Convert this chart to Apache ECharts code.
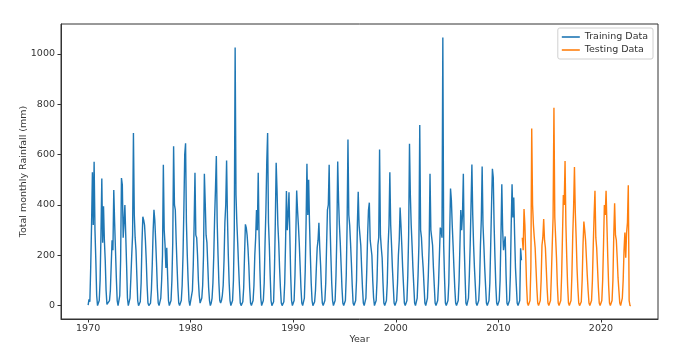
<!DOCTYPE html>
<html>
<head>
<meta charset="utf-8">
<script src="https://cdn.jsdelivr.net/npm/echarts@6/dist/echarts.min.js"></script>
<style>
html,body{margin:0;padding:0;background:#fff;}
#chart{width:679px;height:357px;}
</style>
</head>
<body>
<div id="chart"></div>
<script>
// Monthly totals (mm), one row per year, Jan..Dec
const startYear = 1970;
const trainRainfall = [
  /*1970*/ 2, 25, 15, 150, 320, 530, 320, 572, 300, 180, 40, 0,
  /*1971*/ 0, 20, 100, 280, 505, 250, 395, 260, 180, 60, 5, 0,
  /*1972*/ 5, 20, 60, 160, 260, 220, 459, 330, 220, 110, 20, 0,
  /*1973*/ 0, 40, 180, 507, 480, 270, 330, 400, 280, 160, 30, 0,
  /*1974*/ 0, 30, 110, 200, 280, 686, 360, 270, 220, 120, 20, 0,
  /*1975*/ 0, 15, 90, 250, 353, 340, 320, 260, 180, 80, 10, 0,
  /*1976*/ 0, 10, 60, 160, 290, 381, 340, 260, 170, 70, 10, 0,
  /*1977*/ 0, 30, 100, 200, 560, 300, 240, 150, 230, 120, 20, 0,
  /*1978*/ 0, 20, 100, 250, 633, 400, 380, 260, 160, 70, 10, 0,
  /*1979*/ 0, 20, 80, 200, 380, 600, 645, 330, 200, 100, 20, 0,
  /*1980*/ 5, 40, 60, 160, 320, 528, 280, 270, 200, 100, 40, 10,
  /*1981*/ 20, 30, 80, 200, 524, 410, 280, 250, 160, 70, 20, 0,
  /*1982*/ 10, 30, 90, 200, 350, 465, 595, 330, 200, 90, 20, 10,
  /*1983*/ 20, 40, 80, 180, 330, 400, 577, 350, 200, 90, 20, 0,
  /*1984*/ 0, 20, 100, 300, 1026, 440, 330, 250, 160, 80, 10, 0,
  /*1985*/ 0, 15, 70, 200, 323, 310, 280, 230, 160, 70, 10, 0,
  /*1986*/ 0, 20, 80, 200, 270, 380, 300, 528, 280, 140, 30, 0,
  /*1987*/ 0, 20, 90, 250, 380, 570, 686, 330, 240, 120, 20, 0,
  /*1988*/ 0, 15, 140, 330, 568, 460, 320, 250, 150, 70, 10, 0,
  /*1989*/ 0, 15, 90, 250, 455, 300, 360, 450, 280, 120, 20, 0,
  /*1990*/ 0, 20, 120, 280, 457, 380, 320, 250, 160, 70, 10, 0,
  /*1991*/ 0, 30, 140, 330, 564, 360, 500, 330, 200, 90, 20, 0,
  /*1992*/ 0, 15, 60, 150, 230, 260, 329, 230, 160, 70, 10, 0,
  /*1993*/ 0, 20, 90, 240, 380, 400, 560, 330, 200, 90, 20, 0,
  /*1994*/ 0, 20, 120, 280, 573, 420, 320, 250, 160, 70, 10, 0,
  /*1995*/ 0, 20, 120, 320, 660, 360, 320, 250, 170, 80, 10, 0,
  /*1996*/ 0, 20, 100, 320, 452, 320, 280, 240, 150, 70, 10, 0,
  /*1997*/ 0, 30, 140, 280, 380, 409, 260, 230, 200, 100, 30, 0,
  /*1998*/ 0, 20, 100, 240, 270, 620, 280, 230, 190, 90, 10, 0,
  /*1999*/ 0, 20, 90, 240, 320, 530, 320, 240, 150, 80, 10, 0,
  /*2000*/ 0, 20, 90, 200, 260, 390, 320, 240, 150, 80, 10, 0,
  /*2001*/ 0, 20, 120, 280, 643, 440, 320, 240, 150, 80, 10, 0,
  /*2002*/ 0, 30, 120, 240, 718, 300, 270, 200, 150, 80, 10, 0,
  /*2003*/ 0, 30, 120, 240, 524, 300, 270, 240, 150, 80, 10, 0,
  /*2004*/ 0, 20, 90, 200, 310, 300, 270, 1066, 240, 110, 10, 0,
  /*2005*/ 0, 20, 90, 280, 465, 420, 320, 240, 150, 70, 10, 0,
  /*2006*/ 0, 20, 100, 240, 380, 300, 360, 524, 240, 120, 10, 0,
  /*2007*/ 0, 30, 120, 240, 400, 561, 360, 240, 150, 80, 10, 0,
  /*2008*/ 0, 20, 90, 240, 340, 553, 320, 240, 150, 80, 10, 0,
  /*2009*/ 0, 20, 90, 240, 400, 544, 510, 320, 190, 80, 10, 0,
  /*2010*/ 0, 20, 100, 280, 482, 300, 220, 250, 275, 120, 10, 0,
  /*2011*/ 0, 20, 120, 320, 482, 350, 430, 280, 150, 80, 10, 0,
  /*2012*/ 0, 20, 228, 180
];
// Testing period starts May 2012
const testRainfall = [
  /*2012*/ 270, 220, 384, 320, 200, 80, 10, 0,
  /*2013*/ 0, 20, 150, 704, 400, 320, 270, 230, 150, 70, 10, 0,
  /*2014*/ 0, 20, 100, 240, 270, 344, 260, 230, 150, 70, 10, 0,
  /*2015*/ 0, 20, 120, 240, 350, 786, 350, 270, 190, 80, 10, 0,
  /*2016*/ 0, 20, 120, 280, 440, 400, 575, 320, 190, 80, 10, 0,
  /*2017*/ 0, 20, 120, 280, 390, 551, 370, 270, 150, 70, 10, 0,
  /*2018*/ 0, 15, 100, 240, 334, 300, 260, 190, 120, 60, 10, 0,
  /*2019*/ 0, 20, 100, 240, 360, 456, 270, 230, 150, 70, 10, 0,
  /*2020*/ 0, 20, 100, 240, 400, 360, 456, 320, 190, 80, 10, 0,
  /*2021*/ 0, 20, 100, 280, 407, 280, 260, 190, 110, 60, 10, 0,
  /*2022*/ 0, 30, 100, 220, 290, 190, 290, 330, 478, 20, 0, 0
];
const xTicks = [1970, 1980, 1990, 2000, 2010, 2020];
const yTicks = [0, 200, 400, 600, 800, 1000];
const seriesNames = ['Training Data', 'Testing Data'];

function toPoints(values, offset) {
  return values.map((v, i) => [startYear + (offset + i) / 12, v]);
}
const trainPts = toPoints(trainRainfall, 0);
const testPts = toPoints(testRainfall, trainRainfall.length);

const xMinData = startYear, xMaxData = startYear + (trainRainfall.length + testRainfall.length - 1) / 12;
const xPad = (xMaxData - xMinData) * 0.05;
const allVals = trainRainfall.concat(testRainfall);
const yMaxData = Math.max.apply(null, allVals), yMinData = Math.min.apply(null, allVals);
const yPad = (yMaxData - yMinData) * 0.05;

const chart = echarts.init(document.getElementById('chart'));
const font = 'DejaVu Sans';
const plain = v => String(Math.round(v));
chart.setOption({
  animation: false,
  backgroundColor: '#fff',
  grid: {left: 61, right: 21, top: 24, bottom: 38, show: true, borderColor: '#333', borderWidth: 1, containLabel: false},
  legend: {
    data: seriesNames,
    orient: 'vertical',
    right: 26,
    top: 28,
    icon: 'rect',
    itemWidth: 18,
    itemHeight: 1.6,
    itemGap: 1,
    padding: [3, 5, 3, 4],
    backgroundColor: '#fff',
    borderColor: '#d0d0d0',
    borderWidth: 1,
    borderRadius: 2,
    textStyle: {fontFamily: font, fontSize: 9.5, color: '#333', lineHeight: 12}
  },
  xAxis: {
    type: 'value',
    min: xMinData - xPad,
    max: xMaxData + xPad,
    name: 'Year',
    nameLocation: 'middle',
    nameGap: 16,
    nameMoveOverlap: false,
    nameTextStyle: {fontFamily: font, fontSize: 9.5, color: '#333'},
    splitLine: {show: false},
    axisLine: {show: true, onZero: false, lineStyle: {color: '#333'}},
    axisTick: {show: true, length: 3.5, customValues: xTicks, lineStyle: {color: '#333'}},
    axisLabel: {customValues: xTicks, formatter: plain, margin: 5, fontFamily: font, fontSize: 9.5, color: '#333'}
  },
  yAxis: {
    type: 'value',
    min: yMinData - yPad,
    max: yMaxData + yPad,
    name: 'Total monthly Rainfall (mm)',
    nameLocation: 'middle',
    nameGap: 32,
    nameRotate: 90,
    nameMoveOverlap: false,
    nameTextStyle: {fontFamily: font, fontSize: 9.5, color: '#333'},
    splitLine: {show: false},
    axisLine: {show: true, onZero: false, lineStyle: {color: '#333'}},
    axisTick: {show: true, length: 3.5, customValues: yTicks, lineStyle: {color: '#333'}},
    axisLabel: {customValues: yTicks, formatter: plain, margin: 6, fontFamily: font, fontSize: 9.5, color: '#333'}
  },
  series: [
    {name: seriesNames[0], type: 'line', data: trainPts, showSymbol: false, symbol: 'none',
     lineStyle: {width: 1.4, color: '#1f77b4'}, itemStyle: {color: '#1f77b4'}},
    {name: seriesNames[1], type: 'line', data: testPts, showSymbol: false, symbol: 'none',
     lineStyle: {width: 1.4, color: '#ff7f0e'}, itemStyle: {color: '#ff7f0e'}}
  ]
});
</script>
</body>
</html>
